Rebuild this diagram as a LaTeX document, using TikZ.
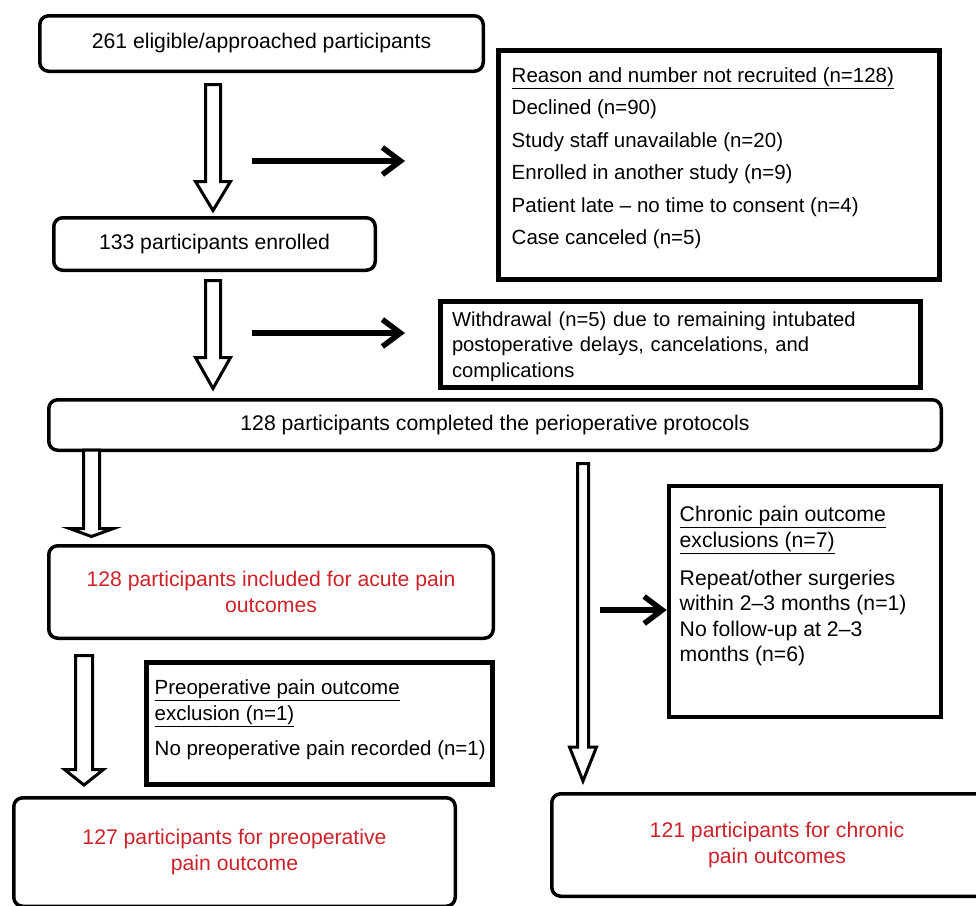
\documentclass[tikz,border=0pt]{standalone}
\usepackage{fontspec}
\setmainfont{Liberation Sans}
\usetikzlibrary{arrows.meta,calc,positioning}
\definecolor{outred}{RGB}{204,34,41}

% hollow down arrow: start, tip, half shaft, half head, head length
\newcommand{\hollowdown}[5]{%
  \draw[hollow] let \p1=(#1), \p2=(#2) in
    (\x1-#3,\y1) -- (\x1+#3,\y1) -- (\x1+#3,\y2+#5) -- (\x1+#4,\y2+#5)
    -- (\x2,\y2) -- (\x1-#4,\y2+#5) -- (\x1-#3,\y2+#5) -- cycle;}

\begin{document}
\begin{tikzpicture}[
  x=1pt, y=-1pt,
  font=\fontsize{21.2}{25.5}\selectfont,
  stage/.style={rectangle, rounded corners=9pt, draw, line width=3.5pt,
    inner sep=0pt, align=center},
  result/.style={stage, text=outred},
  excl/.style={rectangle, draw, line width=5pt, inner sep=0pt},
  note/.style={align=left, inner sep=0pt, anchor=north west},
  smallfont/.style={font=\fontsize{20.5}{25.5}\selectfont},
  hollow/.style={draw, line width=3pt, fill=white, line join=miter},
  push/.style={line width=6pt, -{Straight Barb[length=18pt, width=27pt, line width=5.5pt]}}
]
  \useasboundingbox (0,0) rectangle (976,905);

  % Enrolment.
  \node[stage, minimum width=443.5pt, minimum height=55.5pt] (start) at (261.5,43.5)
    {261 eligible/approached participants};
  \node[stage, minimum width=321.5pt, minimum height=52.5pt] (enrol) at (214.5,244)
    {133 participants enrolled};
  \node[stage, minimum width=892.5pt, minimum height=50.5pt] (done) at (495,425)
    {128 participants completed the perioperative protocols};

  \node[excl, minimum width=441pt, minimum height=229pt] (reason) at (719,165) {};
  \node[note, smallfont] (reasontxt) at (511.5,67)
    {\underline{Reason and number not recruited (n=128)}\\[7pt]
     Declined (n=90)\\[7pt]
     Study staff unavailable (n=20)\\[7pt]
     Enrolled in another study (n=9)\\[7pt]
     Patient late -- no time to consent (n=4)\\[7pt]
     Case canceled (n=5)};
  \node[excl, align=left, text width=457pt, inner xsep=11.5pt, minimum height=86pt,
    font=\fontsize{20.2}{25.5}\selectfont] (withdraw) at (680.5,344.5)
    {\rule{0pt}{19pt}Withdrawal (n=5) due to remaining intubated\\
     postoperative delays, cancelations, and\\
     complications};

  % Acute and preoperative branch.
  \node[result, minimum width=444.5pt, minimum height=92.5pt] (acute) at (271,592)
    {128 participants included for acute pain\\outcomes};
  \node[excl, minimum width=346pt, minimum height=122pt] (preexcl) at (319.5,723.5) {};
  \node[note, smallfont] (preexcltxt) at (154.5,679.5)
    {\underline{Preoperative pain outcome}\\
     \underline{exclusion (n=1)}\\[10pt]
     No preoperative pain recorded (n=1)};
  \node[result, minimum width=441.5pt, minimum height=108.5pt] (preop) at (234.5,852)
    {127 participants for preoperative\\pain outcome};

  % Chronic branch.
  \node[excl, line width=4.5pt, minimum width=272pt, minimum height=231pt] (cexcl) at (805,601.5) {};
  \node[note] (cexcltxt) at (679.5,506)
    {\underline{Chronic pain outcome}\\
     \underline{exclusions (n=7)}\\[12.5pt]
     Repeat/other surgeries\\
     within 2--3 months (n=1)\\
     No follow-up at 2--3\\
     months (n=6)};
  \node[result, minimum width=450.5pt, minimum height=102.5pt] (chronic) at (777,845)
    {121 participants for chronic\\pain outcomes};

  % Hollow arrows.
  \coordinate (a1s) at (213,84.5);  \coordinate (a1t) at (213,210.5);
  \coordinate (a2s) at (213,280.5); \coordinate (a2t) at (213,388.5);
  \coordinate (a3s) at (91.5,450);  \coordinate (a3t) at (91.5,536.5);
  \coordinate (a4s) at (84,655.5);  \coordinate (a4t) at (84,785);
  \coordinate (a5s) at (583,463.5); \coordinate (a5t) at (583,781);
  \hollowdown{a1s}{a1t}{7.5}{17.5}{29}
  \hollowdown{a2s}{a2t}{7.5}{17.5}{31}
  \hollowdown{a3s}{a3t}{8}{22}{8}
  \hollowdown{a4s}{a4t}{8.5}{19.5}{15.5}
  \hollowdown{a5s}{a5t}{5.5}{13.5}{34}

  % Exclusion arrows.
  \coordinate (b1s) at (252,161); \coordinate (b1e) at (405,161);
  \coordinate (b2s) at (252,333); \coordinate (b2e) at (405,333);
  \coordinate (b3s) at (600,610);
  \draw[push] (b1s) -- (b1e);
  \draw[push] (b2s) -- (b2e);
  \draw[push] (b3s) -- (cexcl.west |- b3s);
\end{tikzpicture}
\end{document}
